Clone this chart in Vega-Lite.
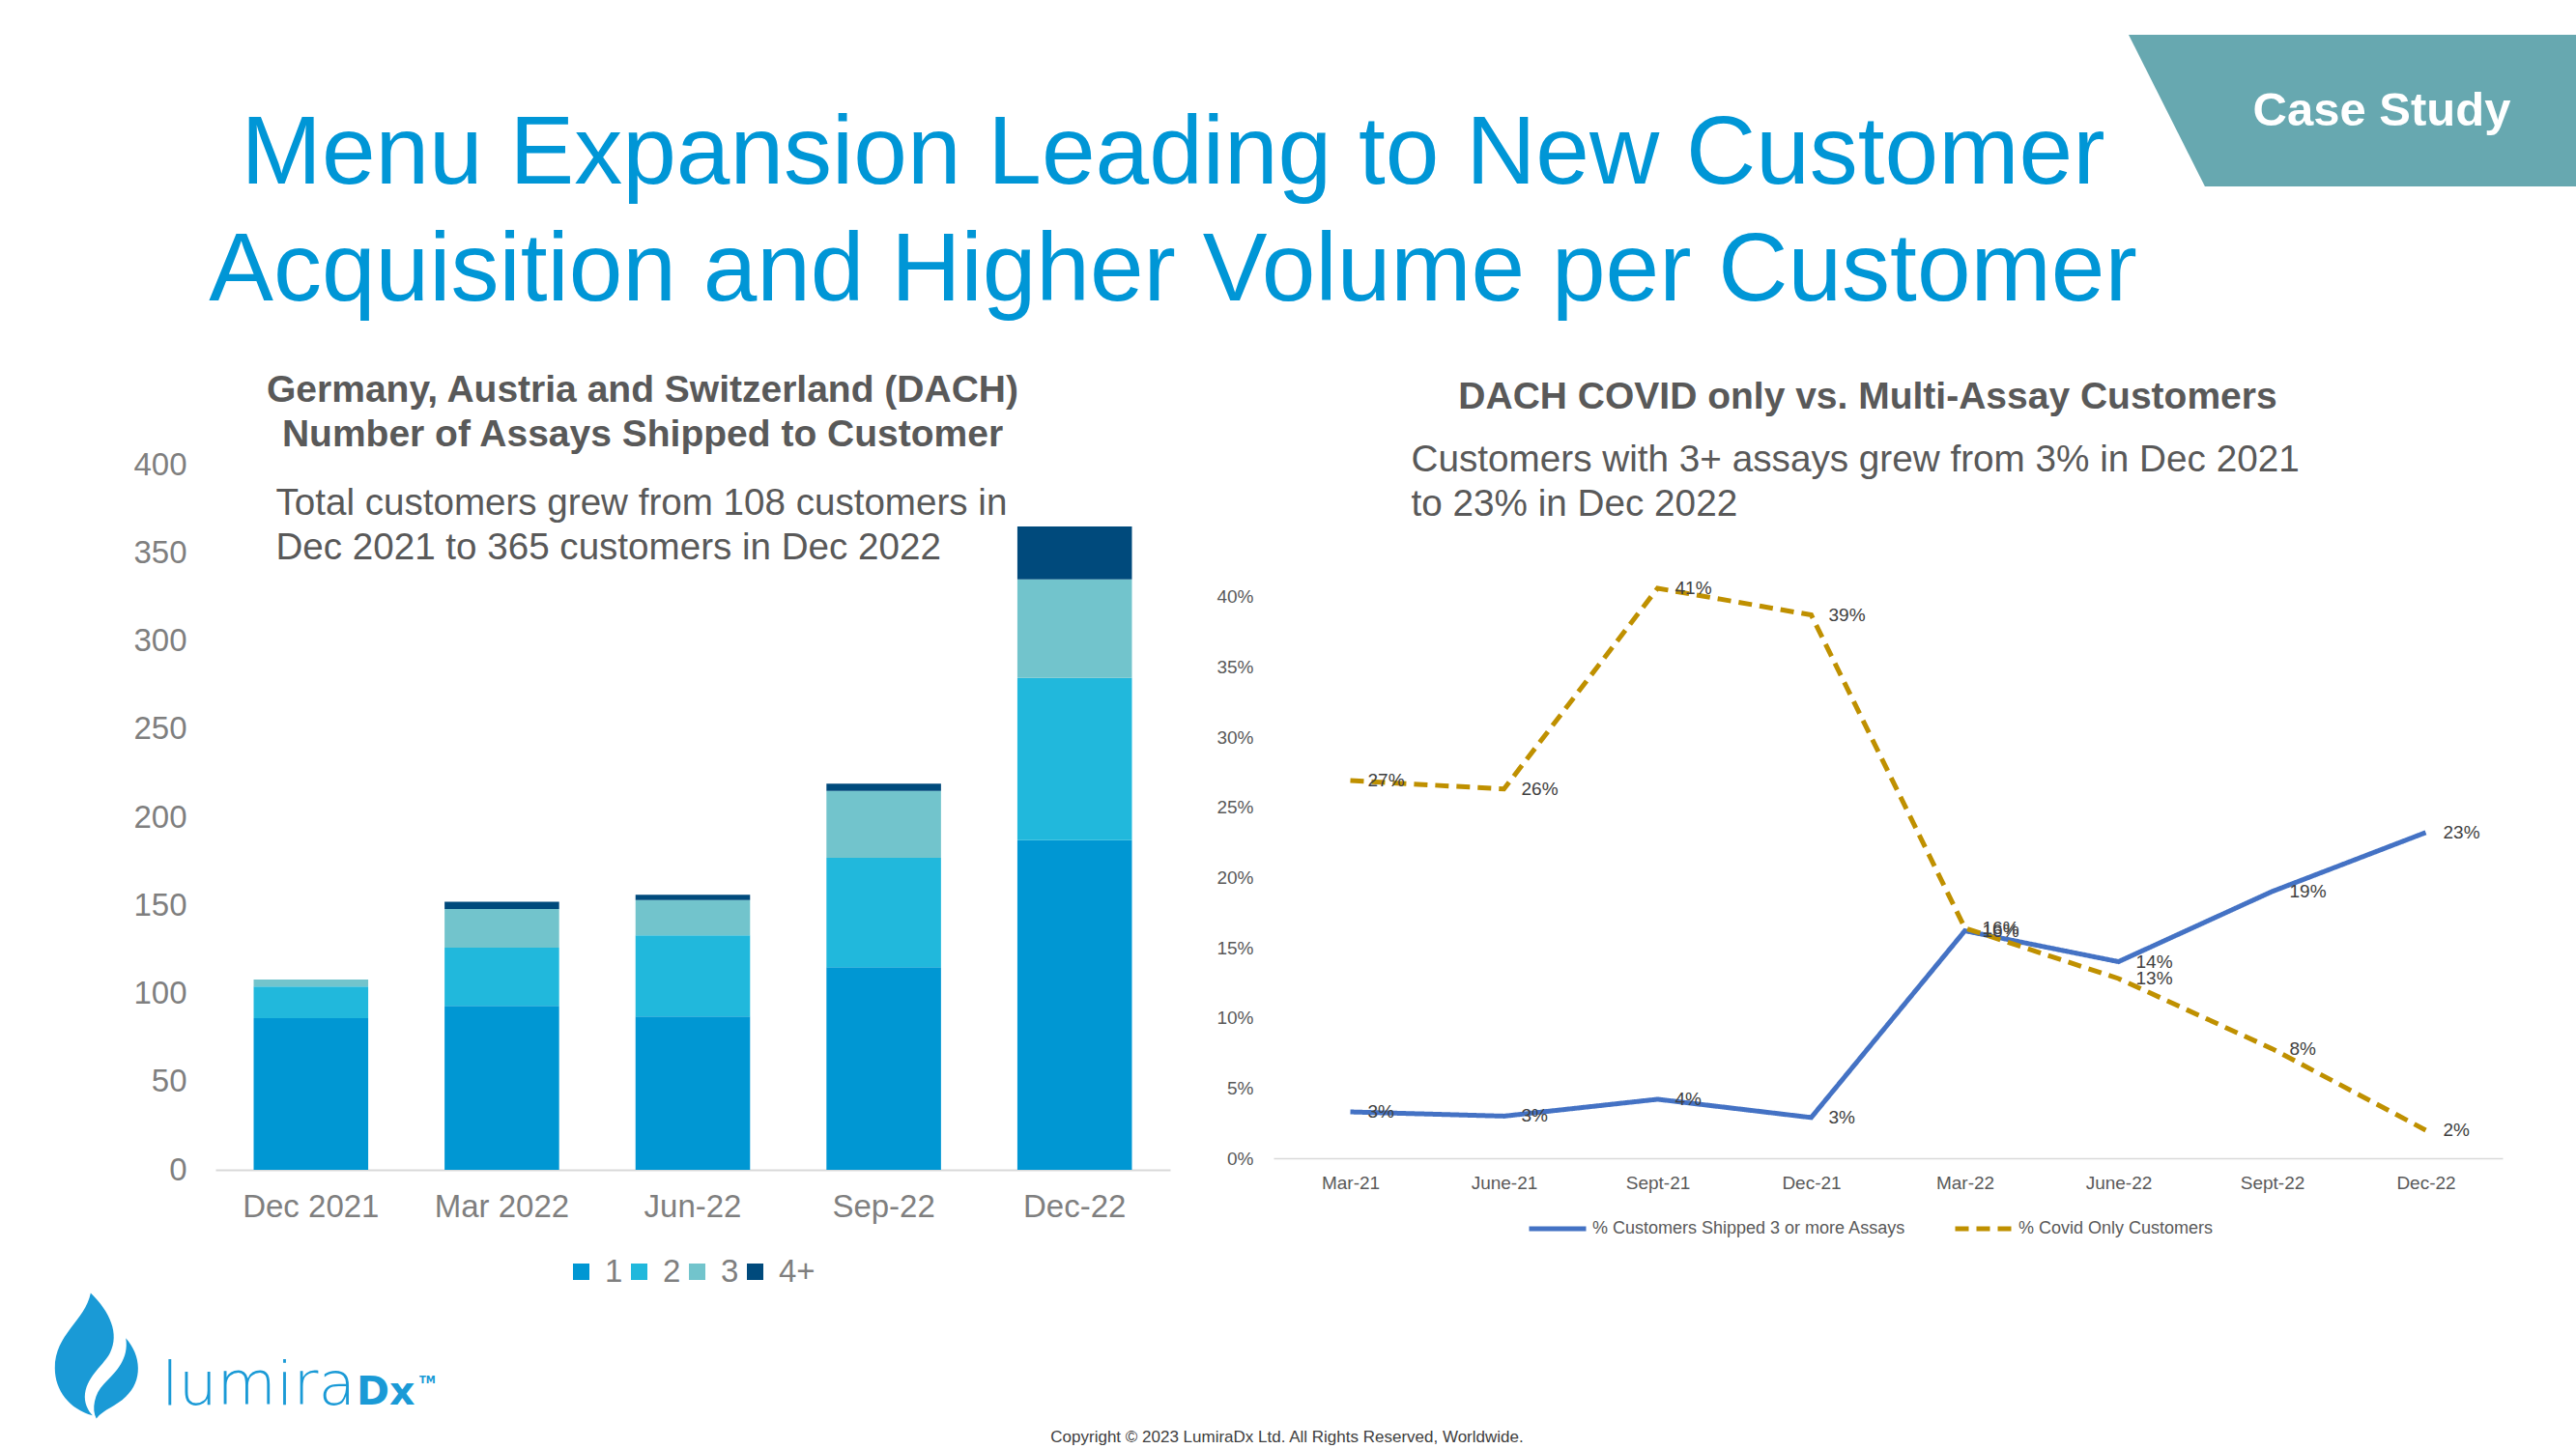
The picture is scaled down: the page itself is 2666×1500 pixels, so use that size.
{
  "$schema": "https://vega.github.io/schema/vega-lite/v6.json",
  "background": "white",
  "padding": 0,
  "spacing": 0,
  "config": {
    "view": {"stroke": null},
    "font": "Liberation Sans",
    "axis": {"labelFont": "Liberation Sans", "titleFont": "Liberation Sans"},
    "legend": {"labelFont": "Liberation Sans", "padding": 0},
    "title": {"font": "Liberation Sans"}
  },
  "vconcat": [
    {
      "width": 2666,
      "height": 378,
      "data": {"values": [{"tag": "Case Study"}]},
      "layer": [
        {
          "mark": {"type": "point", "shape": "M-1,-0.339L1,-0.339L1,0.339L-0.659,0.339Z", "size": 214369, "filled": true, "fill": "#67A8B0", "opacity": 1, "strokeWidth": 0, "xOffset": 1101.5, "yOffset": -74.5},
          "encoding": {}
        },
        {
          "mark": {"type": "text", "fontSize": 49, "fontWeight": "bold", "color": "#FFFFFF", "align": "center", "baseline": "alphabetic", "dx": 1132, "dy": -59},
          "encoding": {"text": {"field": "tag"}}
        },
        {
          "mark": {"type": "text", "fontSize": 100, "color": "#0096D6", "align": "center", "baseline": "alphabetic", "lineHeight": 121, "dx": -119, "dy": 1,
                   "text": ["Menu Expansion Leading to New Customer", "Acquisition and Higher Volume per Customer"]},
          "encoding": {}
        }
      ]
    },
    {
      "spacing": 0,
      "resolve": {"scale": {"color": "independent", "strokeDash": "independent"}, "legend": {"color": "independent", "strokeDash": "independent"}},
      "hconcat": [
        {"width": 137, "height": 1, "data": {"values": [{}]}, "mark": {"type": "point", "opacity": 0}, "encoding": {}},
        {
          "spacing": 0,
          "resolve": {"legend": {"color": "independent"}},
          "vconcat": [
            {"width": 1, "height": 1, "data": {"values": [{}]}, "mark": {"type": "point", "opacity": 0}, "encoding": {}},
            {
              "width": 988,
              "height": 730,
              "title": {"text": ["Germany, Austria and Switzerland (DACH)", "Number of Assays Shipped to Customer"], "fontSize": 39, "fontWeight": "bold", "color": "#595959", "lineHeight": 46, "anchor": "middle", "frame": "group", "dx": -52, "offset": -5},
              "data": {"values": [
                {"quarter": "Dec 2021", "assays": "1", "customers": 86},
                {"quarter": "Dec 2021", "assays": "2", "customers": 18},
                {"quarter": "Dec 2021", "assays": "3", "customers": 4},
                {"quarter": "Dec 2021", "assays": "4+", "customers": 0},
                {"quarter": "Mar 2022", "assays": "1", "customers": 93},
                {"quarter": "Mar 2022", "assays": "2", "customers": 33},
                {"quarter": "Mar 2022", "assays": "3", "customers": 22},
                {"quarter": "Mar 2022", "assays": "4+", "customers": 4},
                {"quarter": "Jun-22", "assays": "1", "customers": 87},
                {"quarter": "Jun-22", "assays": "2", "customers": 46},
                {"quarter": "Jun-22", "assays": "3", "customers": 20},
                {"quarter": "Jun-22", "assays": "4+", "customers": 3},
                {"quarter": "Sep-22", "assays": "1", "customers": 115},
                {"quarter": "Sep-22", "assays": "2", "customers": 62},
                {"quarter": "Sep-22", "assays": "3", "customers": 38},
                {"quarter": "Sep-22", "assays": "4+", "customers": 4},
                {"quarter": "Dec-22", "assays": "1", "customers": 187},
                {"quarter": "Dec-22", "assays": "2", "customers": 92},
                {"quarter": "Dec-22", "assays": "3", "customers": 56},
                {"quarter": "Dec-22", "assays": "4+", "customers": 30}
              ]},
              "mark": {"type": "bar"},
              "encoding": {
                "x": {
                  "field": "quarter", "type": "nominal",
                  "sort": ["Dec 2021", "Mar 2022", "Jun-22", "Sep-22", "Dec-22"],
                  "scale": {"paddingInner": 0.4, "paddingOuter": 0.2},
                  "axis": {"title": null, "labelAngle": 0, "labelFontSize": 33, "labelColor": "#7F7F7F", "labelPadding": 22, "ticks": false, "domainColor": "#D9D9D9", "domainWidth": 2}
                },
                "y": {
                  "field": "customers", "type": "quantitative", "stack": "zero",
                  "scale": {"domain": [0, 400]},
                  "axis": {
                    "values": [0, 50, 100, 150, 200, 250, 300, 350, 400],
                    "labelFontSize": 33, "labelColor": "#7F7F7F", "labelPadding": 30,
                    "ticks": false, "domain": false, "grid": false,
                    "title": ["Total customers grew from 108 customers in", "Dec 2021 to 365 customers in Dec 2022"],
                    "titleAngle": 0, "titleAlign": "left", "titleBaseline": "alphabetic",
                    "titleX": 62, "titleY": 51, "titleFontSize": 38.6, "titleFontWeight": "normal",
                    "titleColor": "#595959", "titleLineHeight": 46
                  }
                },
                "color": {
                  "field": "assays", "type": "nominal",
                  "scale": {"domain": ["1", "2", "3", "4+"], "range": ["#0097D3", "#21B8DC", "#72C4CC", "#004A7C"]},
                  "legend": {"title": null, "orient": "none", "legendX": 362, "legendY": 819, "direction": "horizontal", "gridAlign": "none", "symbolType": "square", "symbolSize": 289, "symbolStrokeWidth": 0, "labelFontSize": 33, "labelColor": "#7F7F7F", "columnPadding": 0, "labelOffset": 8}
                },
                "order": {"field": "assays", "type": "ordinal", "sort": "ascending"}
              }
            }
          ]
        },
        {"width": 47, "height": 1, "data": {"values": [{}]}, "mark": {"type": "point", "opacity": 0}, "encoding": {}},
        {
          "spacing": 0,
          "resolve": {"scale": {"color": "independent", "strokeDash": "independent"}, "legend": {"color": "independent", "strokeDash": "independent"}},
          "vconcat": [
            {"width": 1, "height": 11, "data": {"values": [{}]}, "mark": {"type": "point", "opacity": 0}, "encoding": {}},
            {
              "width": 1272,
              "height": 654,
              "title": {"text": "DACH COVID only vs. Multi-Assay Customers", "fontSize": 39, "fontWeight": "bold", "color": "#595959", "anchor": "middle", "frame": "group", "dx": -21, "offset": 25},
              "data": {"values": [
                {"period": "Mar-21", "series": "% Customers Shipped 3 or more Assays", "share": 0.033},
                {"period": "June-21", "series": "% Customers Shipped 3 or more Assays", "share": 0.030},
                {"period": "Sept-21", "series": "% Customers Shipped 3 or more Assays", "share": 0.042},
                {"period": "Dec-21", "series": "% Customers Shipped 3 or more Assays", "share": 0.029},
                {"period": "Mar-22", "series": "% Customers Shipped 3 or more Assays", "share": 0.162},
                {"period": "June-22", "series": "% Customers Shipped 3 or more Assays", "share": 0.140},
                {"period": "Sept-22", "series": "% Customers Shipped 3 or more Assays", "share": 0.190},
                {"period": "Dec-22", "series": "% Customers Shipped 3 or more Assays", "share": 0.232},
                {"period": "Mar-21", "series": "% Covid Only Customers", "share": 0.269},
                {"period": "June-21", "series": "% Covid Only Customers", "share": 0.263},
                {"period": "Sept-21", "series": "% Covid Only Customers", "share": 0.406},
                {"period": "Dec-21", "series": "% Covid Only Customers", "share": 0.387},
                {"period": "Mar-22", "series": "% Covid Only Customers", "share": 0.164},
                {"period": "June-22", "series": "% Covid Only Customers", "share": 0.128},
                {"period": "Sept-22", "series": "% Covid Only Customers", "share": 0.078},
                {"period": "Dec-22", "series": "% Covid Only Customers", "share": 0.020}
              ]},
              "resolve": {"legend": {"color": "shared", "strokeDash": "shared"}},
              "encoding": {
                "x": {
                  "field": "period", "type": "ordinal",
                  "sort": ["Mar-21", "June-21", "Sept-21", "Dec-21", "Mar-22", "June-22", "Sept-22", "Dec-22"],
                  "scale": {"type": "point", "padding": 0.5},
                  "axis": {"title": null, "labelAngle": 0, "labelFontSize": 19, "labelColor": "#595959", "labelPadding": 16, "ticks": false, "domainColor": "#D9D9D9", "domainWidth": 1.5}
                },
                "y": {
                  "field": "share", "type": "quantitative",
                  "scale": {"domain": [0, 0.45]},
                  "axis": {
                    "values": [0, 0.05, 0.1, 0.15, 0.2, 0.25, 0.3, 0.35, 0.4],
                    "format": ".0%",
                    "labelFontSize": 19, "labelColor": "#595959", "labelPadding": 21,
                    "ticks": false, "domain": false, "grid": false,
                    "title": ["Customers with 3+ assays grew from 3% in Dec 2021", "to 23% in Dec 2022"],
                    "titleAngle": 0, "titleAlign": "left", "titleBaseline": "alphabetic",
                    "titleX": 142, "titleY": -58, "titleFontSize": 38.7, "titleFontWeight": "normal",
                    "titleColor": "#595959", "titleLineHeight": 46
                  }
                }
              },
              "layer": [
                {
                  "mark": {"type": "line", "strokeWidth": 5},
                  "encoding": {
                    "color": {
                      "field": "series", "type": "nominal",
                      "scale": {"domain": ["% Customers Shipped 3 or more Assays", "% Covid Only Customers"], "range": ["#4472C4", "#BF9000"]},
                      "legend": {"title": null, "orient": "none", "legendX": 262, "legendY": 695, "direction": "horizontal", "gridAlign": "none", "symbolType": "stroke", "symbolSize": 3481, "symbolStrokeWidth": 5, "labelFontSize": 18, "labelColor": "#595959", "labelLimit": 0, "columnPadding": 40, "labelOffset": 4}
                    },
                    "strokeDash": {
                      "field": "series", "type": "nominal",
                      "scale": {"domain": ["% Customers Shipped 3 or more Assays", "% Covid Only Customers"], "range": [[1, 0], [14, 8]]},
                      "legend": {"title": null, "orient": "none", "legendX": 262, "legendY": 695, "direction": "horizontal", "gridAlign": "none", "symbolType": "stroke", "symbolSize": 3481, "symbolStrokeWidth": 5, "labelFontSize": 18, "labelColor": "#595959", "labelLimit": 0, "columnPadding": 40, "labelOffset": 4}
                    }
                  }
                },
                {
                  "mark": {"type": "text", "align": "left", "baseline": "middle", "dx": 18, "fontSize": 19, "color": "#404040"},
                  "encoding": {
                    "text": {"field": "share", "type": "quantitative", "format": ".0%"},
                    "detail": {"field": "series", "type": "nominal"}
                  }
                }
              ]
            }
          ]
        }
      ]
    },
    {
      "width": 2666,
      "height": 163,
      "data": {"values": [{"brand": "lumira", "brand2": "Dx", "tm": "TM", "copy": "Copyright © 2023 LumiraDx Ltd. All Rights Reserved, Worldwide."}]},
      "layer": [
        {
          "mark": {"type": "point", "shape": "M-0.11,-1C0.2,-0.7 0.35,-0.35 0.2,-0.05C0.1,0.15 -0.15,0.3 -0.2,0.6C-0.22,0.75 -0.15,0.88 -0.08,0.95C-0.45,0.85 -0.68,0.55 -0.68,0.2C-0.68,-0.35 -0.2,-0.55 -0.11,-1ZM0.45,-0.28C0.7,0 0.72,0.4 0.45,0.65C0.3,0.8 0.1,0.85 -0.02,1C-0.1,0.85 -0.05,0.6 0.1,0.45C0.3,0.25 0.5,0.05 0.45,-0.28Z", "size": 16900, "filled": true, "fill": "#1A9AD6", "opacity": 1, "strokeWidth": 0, "xOffset": -1232, "yOffset": -12},
          "encoding": {}
        },
        {
          "mark": {"type": "text", "font": "DejaVu Sans", "fontSize": 63, "fontWeight": 300, "color": "#1A9AD6", "align": "right", "baseline": "alphabetic", "dx": -965, "dy": 38},
          "encoding": {"text": {"field": "brand"}}
        },
        {
          "mark": {"type": "text", "font": "DejaVu Sans", "fontSize": 41, "fontWeight": "bold", "color": "#1A9AD6", "align": "left", "baseline": "alphabetic", "dx": -964, "dy": 38},
          "encoding": {"text": {"field": "brand2"}}
        },
        {
          "mark": {"type": "text", "font": "DejaVu Sans", "fontSize": 10, "fontWeight": "bold", "color": "#1A9AD6", "align": "left", "baseline": "alphabetic", "dx": -899, "dy": 16},
          "encoding": {"text": {"field": "tm"}}
        },
        {
          "mark": {"type": "text", "fontSize": 17, "color": "#404040", "align": "center", "baseline": "alphabetic", "dx": -1, "dy": 77.5},
          "encoding": {"text": {"field": "copy"}}
        }
      ]
    }
  ]
}
